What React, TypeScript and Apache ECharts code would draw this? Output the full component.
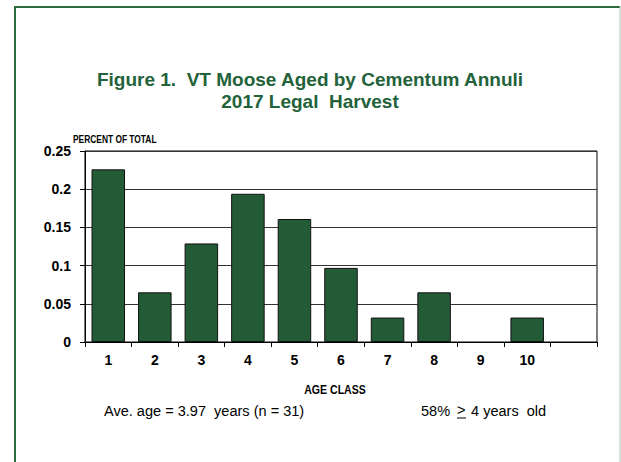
import React, { useEffect, useRef } from "react";
import * as echarts from "echarts";

const categories = ["1", "2", "3", "4", "5", "6", "7", "8", "9", "10", ""];
const percentOfTotal = [0.226, 0.065, 0.129, 0.194, 0.161, 0.097, 0.032, 0.065, 0, 0.032, null];
const yTicks = { min: 0, max: 0.25, interval: 0.05 };
const titleLines = ["Figure 1.  VT Moose Aged by Cementum Annuli", "2017 Legal  Harvest"];
const notes = {
  yName: "PERCENT OF TOTAL",
  xName: "AGE CLASS",
  avg: "Ave. age = 3.97  years (n = 31)",
  pctPrefix: "58%",
  pctSym: ">",
  pctSuffix: "4 years  old",
};

const GREEN = "#23623a";
const BAR = "#235b37";
const ARIAL = "'Liberation Sans', Arial, sans-serif";

export default function App() {
  const ref = useRef<HTMLDivElement>(null);
  useEffect(() => {
    document.body.style.margin = "0";
    if (!ref.current) return;
    const chart = echarts.init(ref.current, null, { renderer: "svg" });
    const barData = percentOfTotal.map((v) =>
      v === 0 ? { value: v, itemStyle: { borderWidth: 0 } } : v
    );
    chart.setOption({
      animation: false,
      backgroundColor: "#ffffff",
      grid: {
        left: 85,
        top: 151,
        width: 512,
        height: 191,
        show: true,
        borderColor: "#000",
        borderWidth: 1,
        containLabel: false,
      },
      xAxis: {
        type: "category",
        data: categories,
        axisLine: { show: true, lineStyle: { color: "#000", width: 1 } },
        axisTick: { show: true, alignWithLabel: false, length: 5, lineStyle: { color: "#000" } },
        axisLabel: {
          color: "#000",
          fontFamily: ARIAL,
          fontWeight: "bold",
          fontSize: 14,
          margin: 11,
        },
        splitLine: { show: false },
      },
      yAxis: {
        type: "value",
        min: yTicks.min,
        max: yTicks.max,
        interval: yTicks.interval,
        axisLine: { show: true, lineStyle: { color: "#000", width: 1 } },
        axisTick: { show: true, length: 5, lineStyle: { color: "#000" } },
        axisLabel: {
          color: "#000",
          fontFamily: ARIAL,
          fontWeight: "bold",
          fontSize: 14,
          margin: 14,
        },
        splitLine: { show: true, lineStyle: { color: "#333", width: 1 } },
      },
      series: [
        {
          type: "bar",
          data: barData,
          barCategoryGap: "28%",
          itemStyle: { color: BAR, borderColor: "#111", borderWidth: 1 },
        },
      ],
      graphic: [
        { type: "line", shape: { x1: 15, y1: 6, x2: 15, y2: 462 }, style: { stroke: "#2d6a3e", lineWidth: 2 } },
        { type: "line", shape: { x1: 14, y1: 7, x2: 620, y2: 7 }, style: { stroke: "#2d6a3e", lineWidth: 2 } },
        { type: "line", shape: { x1: 620, y1: 6, x2: 620, y2: 462 }, style: { stroke: "#a9c9b3", lineWidth: 1 } },
        {
          type: "text",
          x: 310,
          y: 79,
          style: {
            text: titleLines[0],
            font: `bold 19px ${ARIAL}`,
            fill: GREEN,
            align: "center",
            verticalAlign: "middle",
          },
        },
        {
          type: "text",
          x: 310,
          y: 101,
          style: {
            text: titleLines[1],
            font: `bold 19px ${ARIAL}`,
            fill: GREEN,
            align: "center",
            verticalAlign: "middle",
          },
        },
        {
          type: "text",
          x: 73,
          y: 140,
          scaleX: 0.84,
          style: { text: notes.yName, font: `bold 10px ${ARIAL}`, fill: "#000", verticalAlign: "middle" },
        },
        {
          type: "text",
          x: 335,
          y: 390,
          scaleX: 0.88,
          style: {
            text: notes.xName,
            font: `bold 12px ${ARIAL}`,
            fill: "#000",
            align: "center",
            verticalAlign: "middle",
          },
        },
        {
          type: "text",
          x: 104,
          y: 411,
          scaleX: 0.97,
          style: { text: notes.avg, font: `15px ${ARIAL}`, fill: "#000", verticalAlign: "middle" },
        },
        {
          type: "text",
          x: 421,
          y: 411,
          scaleX: 0.97,
          style: { text: notes.pctPrefix, font: `15px ${ARIAL}`, fill: "#000", verticalAlign: "middle" },
        },
        {
          type: "text",
          x: 457,
          y: 410,
          scaleX: 0.97,
          style: { text: notes.pctSym, font: `15px ${ARIAL}`, fill: "#000", verticalAlign: "middle" },
        },
        {
          type: "text",
          x: 471,
          y: 411,
          scaleX: 0.97,
          style: { text: notes.pctSuffix, font: `15px ${ARIAL}`, fill: "#000", verticalAlign: "middle" },
        },
        { type: "line", shape: { x1: 457, y1: 418, x2: 466, y2: 418 }, style: { stroke: "#000", lineWidth: 1 } },
      ],
    });
    return () => chart.dispose();
  }, []);
  return <div ref={ref} style={{ width: 621, height: 462 }} />;
}
